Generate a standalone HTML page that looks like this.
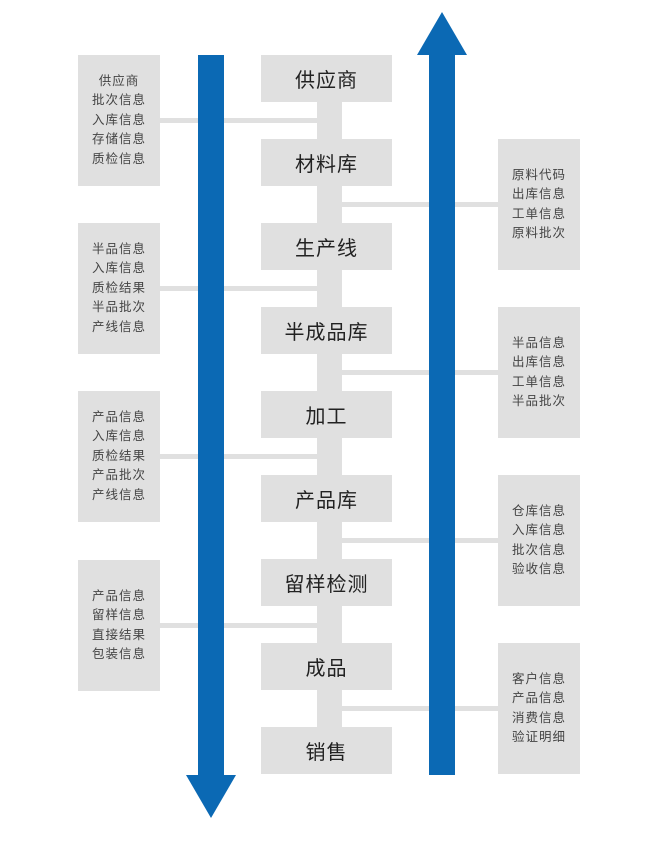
<!DOCTYPE html>
<html><head><meta charset="utf-8"><style>
body{margin:0;width:646px;height:846px;background:#fff;position:relative;overflow:hidden;font-family:"Liberation Sans","Noto Sans CJK SC",sans-serif}
div{position:absolute;box-sizing:border-box}
.g{background:#e0e0e0}
.c{left:261px;width:131px;height:47px;font-size:20px;color:#222;display:flex;align-items:center;justify-content:center;letter-spacing:1px}
.s{width:82px;height:131px;font-size:12.5px;color:#444;line-height:19.5px;display:flex;align-items:center;justify-content:center;text-align:center;letter-spacing:1px}
.l{left:78px}.r{left:498px}
.h{height:5px;background:#e0e0e0}
.b{background:#0b69b4}
</style></head><body>
<div class="g" style="left:317px;top:100px;width:25px;height:628px"></div>
<div class="h" style="left:160px;top:118px;width:158px"></div>
<div class="h" style="left:160px;top:286px;width:158px"></div>
<div class="h" style="left:160px;top:454px;width:158px"></div>
<div class="h" style="left:160px;top:623px;width:158px"></div>
<div class="h" style="left:341px;top:202px;width:158px"></div>
<div class="h" style="left:341px;top:370px;width:158px"></div>
<div class="h" style="left:341px;top:538px;width:158px"></div>
<div class="h" style="left:341px;top:706px;width:158px"></div>
<div class="g c" style="top:55px">供应商</div>
<div class="g c" style="top:139px">材料库</div>
<div class="g c" style="top:223px">生产线</div>
<div class="g c" style="top:307px">半成品库</div>
<div class="g c" style="top:391px">加工</div>
<div class="g c" style="top:475px">产品库</div>
<div class="g c" style="top:559px">留样检测</div>
<div class="g c" style="top:643px">成品</div>
<div class="g c" style="top:727px">销售</div>
<div class="g s l" style="top:55px">供应商<br>批次信息<br>入库信息<br>存储信息<br>质检信息</div>
<div class="g s l" style="top:223px">半品信息<br>入库信息<br>质检结果<br>半品批次<br>产线信息</div>
<div class="g s l" style="top:391px">产品信息<br>入库信息<br>质检结果<br>产品批次<br>产线信息</div>
<div class="g s l" style="top:560px">产品信息<br>留样信息<br>直接结果<br>包装信息</div>
<div class="g s r" style="top:139px">原料代码<br>出库信息<br>工单信息<br>原料批次</div>
<div class="g s r" style="top:307px">半品信息<br>出库信息<br>工单信息<br>半品批次</div>
<div class="g s r" style="top:475px">仓库信息<br>入库信息<br>批次信息<br>验收信息</div>
<div class="g s r" style="top:643px">客户信息<br>产品信息<br>消费信息<br>验证明细</div>
<div class="b" style="left:198px;top:55px;width:26px;height:722px"></div>
<div class="b" style="left:429px;top:53px;width:26px;height:722px"></div>
<svg width="646" height="846" style="position:absolute;left:0;top:0">
<polygon points="186,775 236,775 211,818" fill="#0b69b4"/>
<polygon points="417,55 467,55 442,12" fill="#0b69b4"/>
</svg>
</body></html>
